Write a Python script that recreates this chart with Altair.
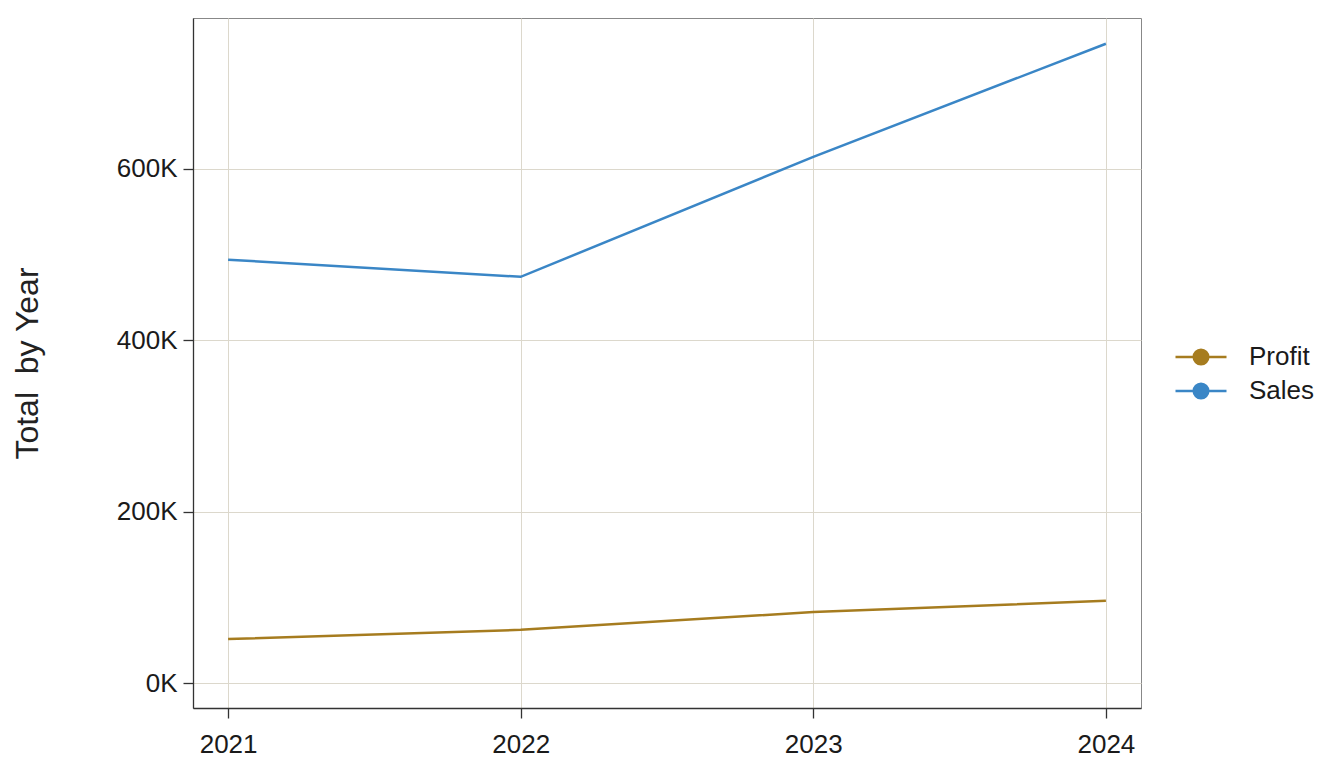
import altair as alt
import pandas as pd

years = ["2021", "2022", "2023", "2024"]
sales = [494000, 474000, 614000, 746000]
profit = [51400, 62200, 82900, 96100]
series = ["Profit", "Sales"]
colors = ["#a67c1f", "#3a86c6"]
y_ticks = [0, 200000, 400000, 600000]

rows = []
for yr, s, p in zip(years, sales, profit):
    rows.append({"Year": yr, "Measure": "Profit", "Value": p})
    rows.append({"Year": yr, "Measure": "Sales", "Value": s})
df = pd.DataFrame(rows)

# legend glyph: line with a filled dot (dot built from concentric stroked rings)
sym = "M-2.04,0L2.04,0"
for r in [0.584, 0.424, 0.264, 0.104]:
    sym += f"M{r},0A{r},{r},0,1,1,{-r},0A{r},{r},0,1,1,{r},0"
FONT = "Liberation Sans"

chart = alt.Chart(df).mark_line(strokeWidth=2.5).encode(
    x=alt.X("Year:O", sort=years,
            scale=alt.Scale(type="point", padding=0.12),
            axis=alt.Axis(title=None, labelAngle=0, labelPadding=13, grid=True)),
    y=alt.Y("Value:Q",
            scale=alt.Scale(domain=[-29000, 776000], nice=False, zero=False),
            axis=alt.Axis(title="Total\u00a0 by Year", values=y_ticks,
                          labelExpr="datum.value / 1000 + 'K'",
                          labelPadding=6, titlePadding=72, grid=True)),
    color=alt.Color("Measure:N",
                    scale=alt.Scale(domain=series, range=colors),
                    legend=alt.Legend(title=None, symbolType=sym, symbolSize=625,
                                      symbolStrokeWidth=2.5, orient="none",
                                      legendX=994, legendY=325, padding=0,
                                      labelFontSize=26, labelFont=FONT, labelColor="#1a1a1a",
                                      labelOffset=34, rowPadding=7)),
).properties(
    width=948, height=690,
    autosize=alt.AutoSizeParams(type="none"),
    padding={"left": 185, "top": 10, "right": 195, "bottom": 50},
).configure_view(
    stroke="#888888", strokeWidth=1
).configure_axis(
    labelFont=FONT, titleFont=FONT, labelFontSize=26, titleFontSize=32,
    labelColor="#1a1a1a", titleColor="#222222", titleFontWeight="normal",
    domainColor="#333333", domainWidth=1.3, tickColor="#333333", tickWidth=1.3,
    tickSize=10, gridColor="#dcd8cc", gridWidth=1,
)

chart.save("out.html", embed_options={"renderer": "svg", "actions": False})
